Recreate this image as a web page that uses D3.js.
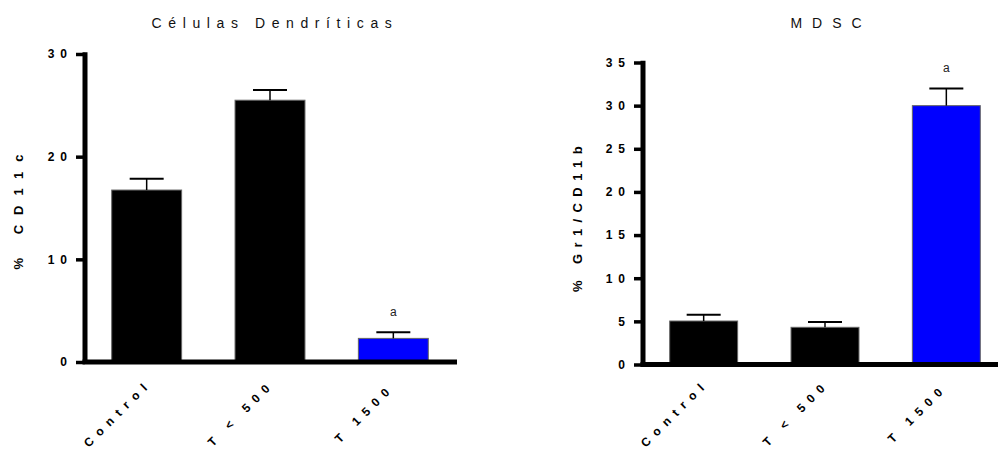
<!DOCTYPE html>
<html><head><meta charset="utf-8">
<script src="https://cdn.jsdelivr.net/npm/d3@7"></script>
<style>
body{margin:0;background:#fff;}
svg{display:block;font-family:"Liberation Sans",Arial,sans-serif;}
</style></head>
<body>
<svg id="c" width="998" height="452"></svg>
<script>
const categories = ["Control", "T < 500", "T 1500"];
const dcValues = [16.75, 25.5, 2.3];
const dcErrors = [1.1, 1.0, 0.6];
const dcTicks = [0, 10, 20, 30];
const mdscValues = [5.04, 4.31, 30.0];
const mdscErrors = [0.73, 0.61, 2.0];
const mdscTicks = [0, 5, 10, 15, 20, 25, 30, 35];
const barColors = ["#000000", "#000000", "#0000ff"];
const sigLabels = ["", "", "a"];

const svg = d3.select("#c");

function panel(cfg) {
  const g = svg.append("g");
  const y = d3.scaleLinear().domain([0, cfg.max]).range([cfg.y0, cfg.y1]);
  const x = d3.scaleBand().domain(categories).range([cfg.xl, cfg.xr])
    .paddingInner(cfg.pad).paddingOuter(cfg.pad / 2);
  // title
  g.append("text").attr("x", cfg.titleX).attr("y", 28).attr("text-anchor", "middle")
    .attr("font-size", 14).attr("letter-spacing", cfg.titleLs + "px").attr("fill", "#111").text(cfg.title);
  // y label
  g.append("text").attr("transform", `translate(${cfg.ylabX},${cfg.ylabY}) rotate(-90)`)
    .attr("text-anchor", "middle").attr("font-size", 13).attr("font-weight", "bold")
    .attr("letter-spacing", cfg.ylabLs + "px").text(cfg.ylab);
  // bars
  g.selectAll("rect.bar").data(cfg.values).enter().append("rect")
    .attr("x", (d, i) => x(categories[i])).attr("width", x.bandwidth())
    .attr("y", d => y(d)).attr("height", d => y(0) - y(d))
    .attr("fill", (d, i) => barColors[i]).attr("stroke", "#666").attr("stroke-width", 1);
  // error bars
  cfg.values.forEach((v, i) => {
    const cx = x(categories[i]) + x.bandwidth() / 2;
    const top = y(v + cfg.errors[i]);
    g.append("line").attr("x1", cx).attr("x2", cx).attr("y1", y(v)).attr("y2", top).attr("stroke", "#000").attr("stroke-width", 1.5);
    g.append("line").attr("x1", cx - 17).attr("x2", cx + 17).attr("y1", top).attr("y2", top).attr("stroke", "#000").attr("stroke-width", 2);
    if (sigLabels[i]) g.append("text").attr("x", cx).attr("y", top - 16).attr("text-anchor", "middle")
      .attr("font-size", 12).attr("fill", "#222").text(sigLabels[i]);
    // category label
    g.append("text").attr("transform", `translate(${cx - 26},416) rotate(-45)`)
      .attr("text-anchor", "middle").attr("font-size", 12).attr("font-weight", "bold")
      .attr("letter-spacing", "6.8px").text(categories[i]);
  });
  // y axis
  const ax = g.append("g").attr("transform", `translate(${cfg.xl},0)`)
    .call(d3.axisLeft(y).tickValues(cfg.ticks).tickSize(9).tickPadding(3).tickFormat(d => String(d)));
  ax.select(".domain").remove();
  ax.selectAll(".tick line").attr("stroke", "#000").attr("stroke-width", 3.5);
  ax.selectAll(".tick text").attr("font-size", 12).attr("font-weight", "bold").attr("letter-spacing", "6px").attr("fill", "#000")
    .attr("font-family", "Liberation Sans, Arial, sans-serif");
  g.append("line").attr("x1", cfg.xl).attr("x2", cfg.xl).attr("y1", y(cfg.max) - 1.7).attr("y2", y(0) + 2)
    .attr("stroke", "#000").attr("stroke-width", 5);
  g.append("line").attr("x1", cfg.xl - 2.5).attr("x2", cfg.axisEnd).attr("y1", y(0)).attr("y2", y(0))
    .attr("stroke", "#000").attr("stroke-width", 5);
}

panel({values: dcValues, errors: dcErrors, ticks: dcTicks, max: 30, y0: 362, y1: 54,
  xl: 85, xr: 455, pad: 0.433, axisEnd: 457,
  title: "Células Dendríticas", titleLs: 6.6, titleX: 275, ylab: "% CD11c", ylabLs: 10, ylabX: 23, ylabY: 207});
panel({values: mdscValues, errors: mdscErrors, ticks: mdscTicks, max: 35, y0: 364.5, y1: 62.5,
  xl: 643, xr: 1007, pad: 0.44, axisEnd: 998,
  title: "MDSC", titleLs: 10, titleX: 831, ylab: "% Gr1/CD11b", ylabLs: 6.4, ylabX: 582, ylabY: 216});
</script>
</body></html>
